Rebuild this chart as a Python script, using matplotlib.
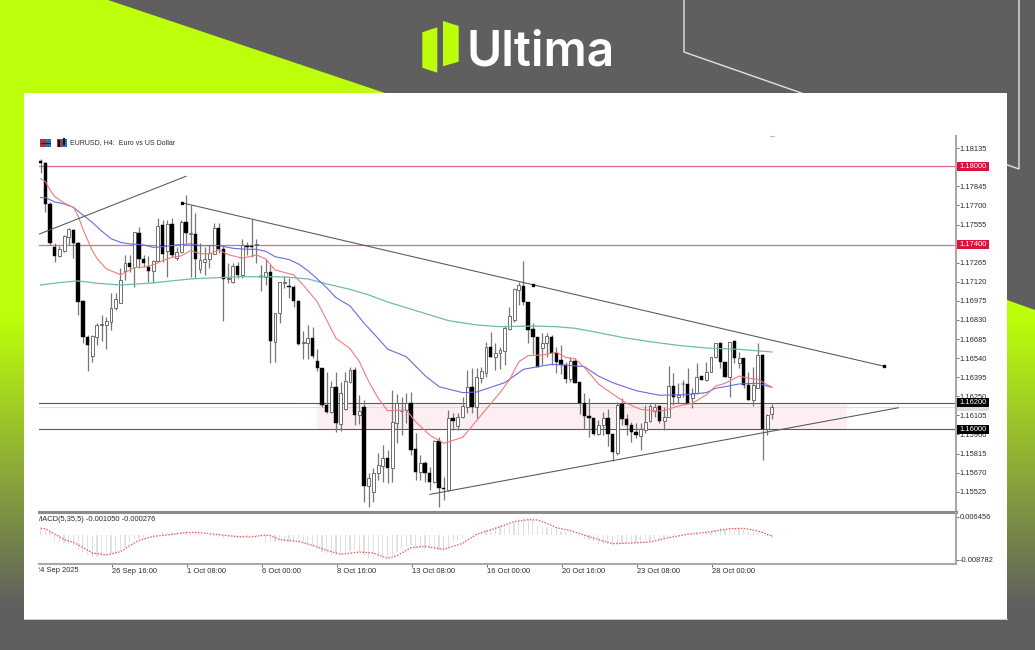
import matplotlib
matplotlib.use('Agg')
import matplotlib.pyplot as plt
import numpy as np
from matplotlib.patches import Polygon, Rectangle
from matplotlib.transforms import Bbox, blended_transform_factory

W, H = 1035, 650

# EURUSD H4 candles
highs = [1.18051,1.18033,1.17730,1.17418,1.17393,1.17476,1.17532,1.17522,1.17425,1.16982,
         1.16716,1.16716,1.16810,1.16868,1.16855,1.17038,1.17033,1.17223,1.17324,1.17324,
         1.17501,1.17534,1.17324,1.17317,1.17286,1.17603,1.17590,1.17590,1.17603,1.17387,
         1.17590,1.17780,1.17704,1.17641,1.17413,1.17387,1.17400,1.17565,1.17570,1.17400,
         1.17261,1.17261,1.17273,1.17443,1.17425,1.17595,1.17443,1.17248,1.17291,1.17248,
         1.16886,1.17121,1.17165,1.17147,1.17096,1.16982,1.16749,1.16792,1.16779,1.16607,
         1.16463,1.16432,1.16369,1.16437,1.16361,1.16437,1.16470,1.16475,1.16260,1.16222,
         1.15665,1.15703,1.15817,1.15880,1.15842,1.16298,1.16268,1.16247,1.16273,1.16285,
         1.15969,1.15804,1.15761,1.15716,1.15918,1.15943,1.15640,1.16146,1.16121,1.16121,
         1.16247,1.16450,1.16463,1.16463,1.16475,1.16666,1.16741,1.16653,1.16627,1.16784,
         1.16931,1.17071,1.17121,1.17281,1.16969,1.16805,1.16703,1.16729,1.16729,1.16716,
         1.16627,1.16640,1.16513,1.16551,1.16539,1.16361,1.16273,1.16235,1.16083,1.16070,
         1.16133,1.16151,1.15964,1.16209,1.16235,1.16116,1.16057,1.16045,1.16050,1.16184,
         1.16192,1.16197,1.16184,1.16171,1.16480,1.16425,1.16349,1.16374,1.16468,1.16311,
         1.16506,1.16404,1.16513,1.16551,1.16658,1.16665,1.16513,1.16665,1.16678,1.16589,
         1.16539,1.16437,1.16475,1.16653,1.16569,1.16116,1.16192]
lows = [1.17945,1.17653,1.17400,1.17273,1.17306,1.17349,1.17400,1.17299,1.16868,1.16658,
        1.16445,1.16514,1.16640,1.16673,1.16607,1.16754,1.16906,1.16957,1.17134,1.17197,
        1.17083,1.17223,1.17235,1.17121,1.17114,1.17273,1.17273,1.17160,1.17311,1.17286,
        1.17342,1.17413,1.17154,1.17147,1.17190,1.17172,1.17223,1.17332,1.17337,1.16823,
        1.17114,1.17109,1.17147,1.17147,1.17324,1.17311,1.17261,1.17053,1.17096,1.16506,
        1.16514,1.16810,1.17071,1.17000,1.16932,1.16640,1.16534,1.16531,1.16539,1.16445,
        1.16171,1.16121,1.16121,1.15982,1.15989,1.16146,1.16354,1.16032,1.16040,1.15450,
        1.15412,1.15450,1.15614,1.15602,1.15589,1.15602,1.15893,1.15956,1.16045,1.15804,
        1.15614,1.15614,1.15602,1.15538,1.15589,1.15412,1.15462,1.15533,1.15994,1.15994,
        1.16083,1.16121,1.16121,1.16083,1.16349,1.16400,1.16546,1.16450,1.16455,1.16488,
        1.16754,1.16817,1.16944,1.16944,1.16658,1.16572,1.16470,1.16488,1.16551,1.16488,
        1.16425,1.16420,1.16354,1.16361,1.16349,1.16116,1.15999,1.15944,1.15956,1.15956,
        1.15956,1.15873,1.15761,1.15804,1.16032,1.15956,1.15905,1.15931,1.15842,1.15969,
        1.16057,1.16095,1.16050,1.15994,1.16095,1.16184,1.16202,1.16247,1.16197,1.16164,
        1.16268,1.16374,1.16369,1.16432,1.16544,1.16463,1.16394,1.16242,1.16501,1.16463,
        1.16311,1.16222,1.16176,1.16311,1.15766,1.15956,1.16075]
opens = [1.18038,1.18026,1.17712,1.17387,1.17316,1.17357,1.17463,1.17514,1.17418,1.16975,
         1.16698,1.16557,1.16704,1.16792,1.16792,1.16818,1.16919,1.16957,1.17205,1.17261,
         1.17230,1.17494,1.17291,1.17235,1.17203,1.17279,1.17552,1.17357,1.17560,1.17299,
         1.17349,1.17577,1.17484,1.17484,1.17218,1.17273,1.17291,1.17332,1.17527,1.17367,
         1.17139,1.17121,1.17241,1.17172,1.17395,1.17395,1.17398,1.17159,1.17154,1.17197,
         1.16666,1.16881,1.17114,1.17089,1.17084,1.16977,1.16655,1.16658,1.16691,1.16521,
         1.16463,1.16184,1.16134,1.16318,1.16040,1.16154,1.16361,1.16450,1.16108,1.16171,
         1.15569,1.15526,1.15670,1.15723,1.15779,1.15703,1.16050,1.16136,1.16146,1.16197,
         1.15847,1.15678,1.15741,1.15665,1.15602,1.15910,1.15556,1.15538,1.16083,1.16027,
         1.16095,1.16171,1.16318,1.16166,1.16392,1.16425,1.16622,1.16551,1.16577,1.16597,
         1.16759,1.16830,1.17058,1.17091,1.16964,1.16759,1.16698,1.16615,1.16653,1.16703,
         1.16582,1.16526,1.16488,1.16382,1.16521,1.16356,1.16202,1.16101,1.16083,1.15964,
         1.16032,1.16083,1.15961,1.15817,1.16192,1.16078,1.16032,1.15979,1.15951,1.15994,
         1.16062,1.16141,1.16176,1.16065,1.16095,1.16331,1.16242,1.16346,1.16341,1.16235,
         1.16273,1.16404,1.16374,1.16437,1.16546,1.16653,1.16513,1.16394,1.16670,1.16501,
         1.16539,1.16336,1.16222,1.16311,1.16564,1.15999,1.16113]
closes = [1.18026,1.17712,1.17418,1.17316,1.17370,1.17471,1.17519,1.17418,1.16969,1.16698,
          1.16640,1.16711,1.16792,1.16797,1.16823,1.16924,1.16990,1.17134,1.17261,1.17230,
          1.17496,1.17291,1.17261,1.17205,1.17279,1.17547,1.17332,1.17560,1.17322,1.17349,
          1.17577,1.17489,1.17489,1.17291,1.17286,1.17294,1.17337,1.17527,1.17367,1.17139,
          1.17147,1.17241,1.17172,1.17398,1.17387,1.17387,1.17408,1.17157,1.17192,1.16671,
          1.16886,1.17116,1.17119,1.17084,1.16975,1.16648,1.16661,1.16691,1.16559,1.16463,
          1.16184,1.16134,1.16318,1.16045,1.16278,1.16366,1.16450,1.16108,1.16141,1.15569,
          1.15627,1.15670,1.15728,1.15779,1.15708,1.16057,1.16197,1.16141,1.16197,1.15842,
          1.15678,1.15746,1.15665,1.15602,1.15910,1.15551,1.15546,1.16088,1.16063,1.16095,
          1.16177,1.16318,1.16166,1.16394,1.16442,1.16622,1.16551,1.16582,1.16602,1.16767,
          1.16860,1.17063,1.17096,1.16969,1.16754,1.16698,1.16470,1.16658,1.16708,1.16582,
          1.16513,1.16488,1.16382,1.16521,1.16354,1.16197,1.16103,1.16083,1.15964,1.16032,
          1.16083,1.15964,1.15824,1.16184,1.16080,1.16032,1.15976,1.15954,1.15999,1.16057,
          1.16176,1.16171,1.16065,1.16095,1.16331,1.16247,1.16263,1.16341,1.16197,1.16273,
          1.16399,1.16374,1.16437,1.16546,1.16653,1.16513,1.16394,1.16665,1.16539,1.16539,
          1.16336,1.16222,1.16336,1.16564,1.15999,1.16108,1.16166]

# moving averages: bar number and value
red_bars = [0,1,2,3,5,7,8,9,11,12,14,17,18,20,22,24,26,28,30,32,34,36,38,40,43,46,48,50,54,56,59,61,63,66,
            68,70,72,74,78,80,83,86,90,93,95,98,100,102,104,107,110,112,114,116,119,
            122,125,128,131,133,136,139,142,144,146,149,151,153,156]
red_vals = [1.17904,1.17881,1.17818,1.17767,1.17719,1.17686,1.17620,1.17522,1.17357,1.17299,1.17218,1.17175,
            1.17190,1.17228,1.17233,1.17248,1.17281,1.17306,1.17317,1.17357,1.17334,1.17332,1.17362,1.17327,
            1.17299,1.17324,1.17294,1.17210,1.17172,1.17096,1.16969,1.16830,1.16691,1.16612,
            1.16513,1.16361,1.16235,1.16141,1.16146,1.16057,1.15956,1.15893,1.15938,1.16065,1.16151,1.16278,
            1.16374,1.16513,1.16559,1.16564,1.16584,1.16546,1.16534,1.16470,1.16344,
            1.16268,1.16197,1.16151,1.16139,1.16141,1.16176,1.16197,1.16260,1.16328,1.16349,1.16404,1.16387,
            1.16379,1.16318]
blue_bars = [0,1,3,5,7,9,11,13,15,17,19,22,24,26,29,32,34,38,41,44,46,48,50,53,55,57,59,61,63,66,
             69,71,74,78,82,85,90,93,96,99,101,103,106,109,112,116,119,
             122,127,132,138,142,144,146,149,153,156]
blue_vals = [1.17760,1.17760,1.17727,1.17712,1.17686,1.17628,1.17572,1.17506,1.17448,1.17420,1.17408,1.17400,
             1.17382,1.17387,1.17400,1.17408,1.17395,1.17395,1.17375,1.17367,1.17367,1.17352,1.17311,1.17289,
             1.17256,1.17205,1.17142,1.17076,1.17000,1.16937,
             1.16805,1.16729,1.16609,1.16551,1.16407,1.16323,1.16278,1.16283,1.16318,1.16354,1.16404,1.16455,
             1.16475,1.16493,1.16488,1.16475,1.16404,
             1.16354,1.16293,1.16258,1.16263,1.16278,1.16311,1.16323,1.16344,1.16349,1.16318]
teal_bars = [0,4,8,12,17,21,25,32,38,43,48,52,57,61,66,70,74,80,87,93,98,105,110,114,119,124,130,136,142,149,156]
teal_vals = [1.17096,1.17114,1.17127,1.17109,1.17096,1.17104,1.17116,1.17142,1.17152,1.17159,1.17159,1.17157,
             1.17142,1.17104,1.17063,1.17020,1.16967,1.16901,1.16825,1.16792,1.16779,1.16784,1.16779,1.16767,
             1.16734,1.16698,1.16665,1.16637,1.16617,1.16607,1.16587]

# MACD window
macd_hist = [.0021,.0019,.0010,-.0021,-.0026,-.0030,-.0033,-.0038,-.0054,-.0060,
             -.0071,-.0077,-.0077,-.0074,-.0071,-.0069,-.0060,-.0054,-.0042,-.0024,
             -.0018,-.0012,-.0010,-.0005,-.0002,.0002,.0010,.0007,.0006,.0010,
             .0012,.0010,.0007,.0005,.0004,.0000,-.0004,-.0004,-.0006,-.0010,
             -.0010,-.0008,-.0010,-.0008,-.0006,-.0004,-.0002,-.0002,-.0030,-.0030,
             -.0024,-.0021,-.0024,-.0024,-.0024,-.0026,-.0033,-.0036,-.0042,-.0050,
             -.0062,-.0069,-.0071,-.0071,-.0071,-.0060,-.0057,-.0054,-.0062,-.0071,
             -.0083,-.0086,-.0083,-.0086,-.0081,-.0071,-.0060,-.0048,-.0042,-.0036,
             -.0048,-.0045,-.0050,-.0050,-.0050,-.0052,-.0050,-.0042,-.0026,-.0021,
             -.0012,-.0002,.0002,.0005,.0012,.0017,.0021,.0030,.0033,.0033,
             .0036,.0042,.0060,.0060,.0057,.0055,.0033,.0030,.0030,.0026,
             .0021,.0012,.0010,.0004,.0002,-.0004,-.0014,-.0018,-.0021,-.0031,
             -.0033,-.0033,-.0036,-.0036,-.0033,-.0029,-.0030,-.0029,-.0029,-.0026,
             -.0021,-.0019,-.0018,-.0014,-.0012,-.0005,-.0002,.0000,.0002,.0004,
             .0004,.0005,.0006,.0012,.0017,.0024,.0021,.0024,.0024,.0021,
             .0021,.0014,.0010,.0007,-.0002,-.0005,-.00105]
signal_bars = [0,1,3,5,7,9,11,14,17,19,21,24,27,31,34,38,42,45,48,49,51,55,58,61,64,68,71,74,76,79,82,86,
               90,93,97,101,104,106,108,110,113,117,120,122,126,130,134,138,143,147,150,153,156]
signal_vals = [.00241,.00229,.00039,-.00164,-.00259,-.00437,-.00640,-.00711,-.00592,-.00378,-.00187,-.00045,
               .00003,.00098,.00086,.00015,-.00057,-.00068,.00003,-.00021,-.00164,-.00223,-.00366,-.00544,
               -.00687,-.00604,-.00640,-.00830,-.00735,-.00449,-.00402,-.00509,-.00295,.00027,.00241,.00479,
               .00550,.00539,.00420,.00265,.00158,-.00057,-.00211,-.00306,-.00283,-.00247,-.00092,.00027,
               .00122,.00229,.00241,.00146,-.00033]

# levels and drawn lines
price_ticks = [1.18135,1.17845,1.17700,1.17555,1.17265,1.17120,1.16975,1.16830,
               1.16685,1.16540,1.16395,1.16250,1.16105,1.15960,1.15815,1.15670,1.15525]
red_levels = [1.18000, 1.17400]
black_levels = [1.16200, 1.16000]
grey_level = 1.16169
line_up_bars, line_up_vals = [-0.29, 31.0], [1.17483, 1.17922]
line_top_bars, line_top_vals = [30.09, 105.0, 179.97], [1.17721, 1.17098, 1.16478]
line_low_bars, line_low_vals = [83.06, 182.96], [1.15505, 1.16163]
zone_bars = [59.0, 172.0]

date_bars = [15.15, 31.15, 47.15, 63.15, 79.15, 95.15, 111.15, 127.15, 143.15]
date_first = '24 Sep 2025'
date_labels = ['26 Sep 16:00', '1 Oct 08:00', '6 Oct 00:00', '8 Oct 16:00',
               '13 Oct 08:00', '16 Oct 00:00', '20 Oct 16:00', '23 Oct 08:00', '28 Oct 00:00']

font = 'Liberation Sans'
fs = 5.4
txt = '#2b2b2b'
lime = np.array([189, 255, 10]) / 255
grey = np.array([95, 95, 95]) / 255


def box(x0, y0, x1, y1):
    # pixel box to figure fractions
    return [x0 / W, 1 - y1 / H, (x1 - x0) / W, (y1 - y0) / H]


fig = plt.figure(figsize=(W / 100, H / 100), dpi=100, facecolor='#5f5f5f')

# backdrop in pixel coordinates
bg = fig.add_axes([0, 0, 1, 1], zorder=0)
bg.set_xlim(0, W)
bg.set_ylim(H, 0)
bg.axis('off')
t = np.clip((np.arange(H) - 316) / (605 - 316), 0, 1)[:, None, None]
grad = (lime * (1 - t) + grey * t)
for pts in ([(0, 0), (108, 0), (385, 93), (385, 650), (0, 650)],
            [(1007, 300), (1035, 310), (1035, 650), (1007, 650)]):
    im = bg.imshow(grad, extent=[0, W, H, 0], aspect='auto', zorder=1)
    im.set_clip_path(Polygon(pts, transform=bg.transData))
bg.plot([684, 684, 1019, 1019], [0, 52, 169, 0], color='#e2e2e2', lw=1, zorder=2)
bg.add_patch(Rectangle((24, 93), 983, 526, fc='white', ec='none', zorder=3))
bg.plot([24, 1007], [618.8, 618.8], color='#d0d0d0', lw=0.7, zorder=3)

# logo
bg.add_patch(Polygon([(422.3, 32.3), (437.3, 27.3), (437.3, 72.7), (422.3, 67.7)], fc='#bdff0a', ec='none', zorder=4))
bg.add_patch(Polygon([(443, 21), (458.7, 26), (458.7, 61.7), (443, 66.3)], fc='#bdff0a', ec='none', zorder=4))
bg.text(467, 65.5, 'Ultima', color='white', family='Inter', weight='semibold', fontsize=34.5,
        va='baseline', ha='left', zorder=4)

# legend icons and title
bg.add_patch(Rectangle((40, 138.5), 5.5, 8, fc='#a8383f', ec='none', zorder=4))
bg.add_patch(Rectangle((45.5, 138.5), 5.5, 8, fc='#2f6fb5', ec='none', zorder=4))
bg.plot([41, 50], [142.5, 142.5], color='#222222', lw=0.8, zorder=5)
bg.add_patch(Rectangle((57, 138.5), 5, 8, fc='#a8383f', ec='none', zorder=4))
bg.add_patch(Rectangle((62, 138.5), 5, 8, fc='#2f6fb5', ec='none', zorder=4))
bg.plot([59, 59], [141, 146], color='#111111', lw=1.5, zorder=5)
bg.plot([64, 64], [139, 144], color='#111111', lw=1.5, zorder=5)
bg.text(70.5, 142.8, 'EURUSD, H4:  Euro vs US Dollar', family=font, fontsize=5.0, color=txt,
        va='center', ha='left', zorder=5)
bg.plot([770, 774], [135.5, 135.5], color='#bbbbbb', lw=0.8, zorder=5)

# price window
ax = fig.add_axes(box(39, 136, 956, 512), zorder=2)
ax.patch.set_alpha(0)
ax.set_xlim(-0.356, 195.27)
ax.set_ylim(1.15371, 1.18228)
o, h, l, c = map(np.array, (opens, highs, lows, closes))
bars = np.arange(len(o))
rising = c >= o

ax.axhspan(black_levels[1], black_levels[0], xmin=(zone_bars[0] + 0.356) / 195.626,
           xmax=(zone_bars[1] + 0.356) / 195.626, fc='#fdeef3', ec='none', zorder=1)
for y in red_levels:
    ax.axhline(y, color='#e2688a', lw=0.9, zorder=1.5)
ax.axhline(grey_level, color='#dddddd', lw=0.8, zorder=1.5)
for y in black_levels:
    ax.axhline(y, color='#5a5a5a', lw=0.8, zorder=1.5)

ax.vlines(bars, l, h, color='#777777', lw=0.9, zorder=2)
ax.bar(bars[rising], np.maximum(c - o, 0.00004)[rising], bottom=o[rising], width=0.62,
       fc='white', ec='#5a5a5a', lw=0.6, zorder=3)
ax.bar(bars[~rising], np.maximum(o - c, 0.00004)[~rising], bottom=c[~rising], width=0.72,
       fc='black', ec='black', lw=0.3, zorder=3)

ax.plot(teal_bars, teal_vals, color='#6fbab0', lw=0.9, zorder=4)
ax.plot(blue_bars, blue_vals, color='#6a6ae2', lw=0.8, zorder=4)
ax.plot(red_bars, red_vals, color='#f47a7a', lw=0.8, zorder=4)

ax.plot(line_up_bars, line_up_vals, color='#555555', lw=0.75, zorder=5)
ax.plot(line_top_bars, line_top_vals, color='#555555', lw=0.75, zorder=5)
ax.plot(line_low_bars, line_low_vals, color='#555555', lw=0.75, zorder=5)
ax.plot(line_top_bars, line_top_vals, ls='none', marker='s', ms=1.7, color='black', zorder=6)

ax.set_xticks([])
ax.set_yticks(price_ticks)
ax.set_yticklabels(['%.5f' % v for v in price_ticks], family=font, fontsize=fs, color=txt)
ax.yaxis.tick_right()
ax.tick_params(axis='y', length=2.2, width=0.6, color='#555555', pad=0.2)
for s in ('left', 'top'):
    ax.spines[s].set_visible(False)
ax.spines['right'].set_color('#a8a8a8')
ax.spines['right'].set_linewidth(1.5)
ax.spines['bottom'].set_color('#8c8c8c')
ax.spines['bottom'].set_linewidth(2.2)

# level tags on the price scale
tag = blended_transform_factory(ax.transAxes, ax.transData)
tag_x = 1 + 1.3 / 917
tag_w = 32 / 917
tag_h = 9 / 13160


def price_tag(y, face, label=None, z=10):
    ax.add_patch(Rectangle((tag_x, y - tag_h / 2), tag_w, tag_h, transform=tag, fc=face, ec='none',
                           clip_on=False, zorder=z))
    if label:
        ax.text(tag_x + tag_w / 2, y, label, transform=tag, family=font, fontsize=fs, color='white',
                va='center', ha='center', zorder=z + 1, clip_on=False)


price_tag(grey_level, '#dddddd', z=9)
for y in red_levels:
    price_tag(y, '#dc143c', '%.5f' % y)
for y in black_levels:
    price_tag(y, 'black', '%.5f' % y)

# MACD window
am = fig.add_axes(box(39, 513, 956, 564), zorder=2)
am.patch.set_alpha(0)
am.set_xlim(-0.356, 195.27)
am.set_ylim(-0.01032, 0.00788)
am.bar(bars, macd_hist, width=0.26, color='#e0e0e0', zorder=2)
am.plot(signal_bars, signal_vals, color='#f0565c', lw=0.9, ls=(0, (1.2, 1.2)), zorder=3)
am.set_xticks(date_bars)
am.set_xticklabels(date_labels, family=font, fontsize=fs, color=txt, ha='left')
am.tick_params(axis='x', length=2.5, width=0.6, color='#555555', pad=0.6)
am.set_yticks([0.006456, -0.008782])
am.set_yticklabels(['0.006456', '-0.008782'], family=font, fontsize=fs, color=txt)
am.yaxis.tick_right()
am.tick_params(axis='y', length=2.2, width=0.6, color='#555555', pad=0.2)
for s in ('left', 'top'):
    am.spines[s].set_visible(False)
am.spines['right'].set_color('#a8a8a8')
am.spines['right'].set_linewidth(1.5)
am.spines['bottom'].set_color('#a8a8a8')
am.spines['bottom'].set_linewidth(1.5)

# both of these start left of the window and get cut off at its edge
cut = Bbox([[39, 0], [400, H]])
t1 = bg.text(36.5, 570.3, date_first, family=font, fontsize=fs, color=txt, va='center', ha='left', zorder=6)
t1.set_clip_box(cut)
t1.set_clip_on(True)
t2 = bg.text(36.5, 519.5, 'MACD(5,35,5) -0.001050 -0.000276', family=font, fontsize=fs, color=txt,
             va='center', ha='left', zorder=6)
t2.set_clip_box(cut)
t2.set_clip_on(True)

fig.savefig('out.png', dpi=100, facecolor=fig.get_facecolor())
